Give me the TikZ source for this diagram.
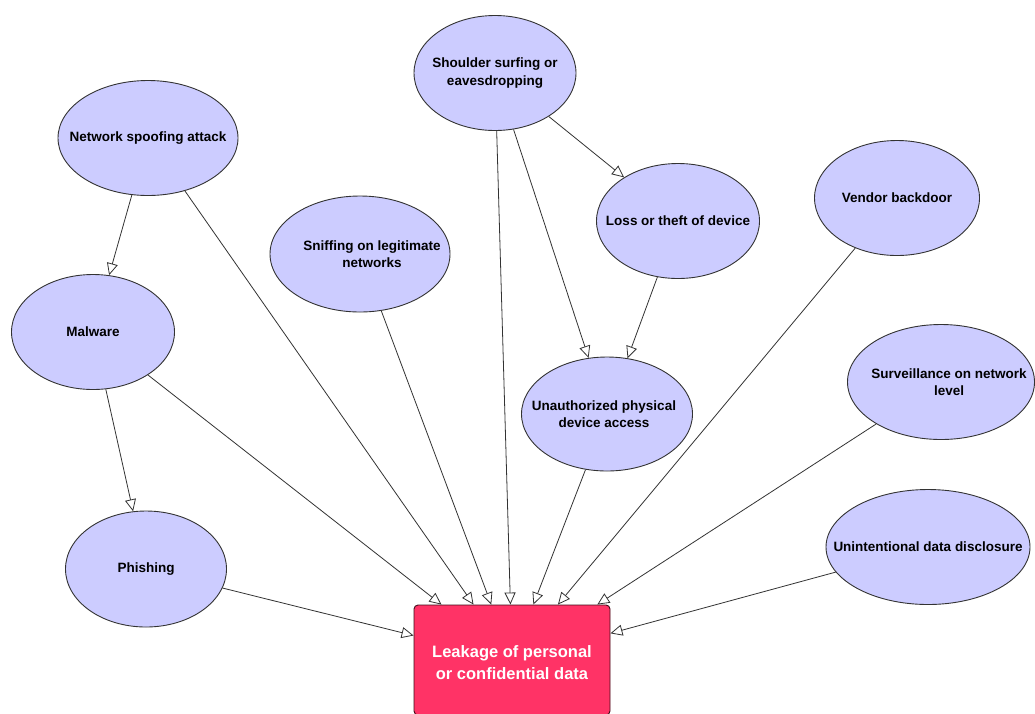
\documentclass[tikz,border=0pt]{standalone}
\usepackage{fontspec}
\setmainfont{Liberation Sans}
\usetikzlibrary{arrows.meta,shapes.geometric}
\definecolor{bubble}{HTML}{CCCCFF}
\definecolor{leakred}{HTML}{FF3366}
\definecolor{edgegray}{HTML}{333333}
\begin{document}
\begin{tikzpicture}[x=1pt,y=-1pt,
  lbl/.style={align=center, inner sep=0pt, text=black,
    font=\fontsize{13.5}{17.5}\selectfont\bfseries},
  threat/.style={ellipse, draw=edgegray, fill=bubble, line width=0.9pt,
    inner sep=0pt},
  sinktext/.style={align=center, inner sep=0pt, text=white,
    font=\fontsize{16.5}{22}\selectfont\bfseries},
  sink/.style={rectangle, rounded corners=4pt, draw=black!75!leakred, fill=leakred,
    line width=0.9pt, minimum width=196pt, minimum height=110pt},
  link/.style={draw=edgegray, line width=0.8pt,
    -{Triangle[open, length=12pt, width=11pt, line width=0.8pt]}}]
\useasboundingbox (0,0) rectangle (1035,713);
\clip (0,0) rectangle (1035,713);
\fill[white] (0,0) rectangle (1035,713);

% threat sources
\node[threat, minimum width=180pt, minimum height=115pt,
  label={[lbl]center:Network spoofing attack}] (spoof) at (148,138) {};
\node[threat, minimum width=162pt, minimum height=115pt,
  label={[lbl]center:Shoulder surfing or\\eavesdropping}] (shoulder) at (495,73) {};
\node[threat, minimum width=163pt, minimum height=115pt,
  label={[lbl]center:Malware}] (malware) at (93,332) {};
\node[threat, minimum width=180pt, minimum height=116pt,
  label={[lbl, xshift=12pt]center:Sniffing on legitimate\\networks}] (sniff) at (360,254) {};
\node[threat, minimum width=163pt, minimum height=115pt,
  label={[lbl]center:Loss or theft of device}] (loss) at (678,221) {};
\node[threat, minimum width=165pt, minimum height=115pt,
  label={[lbl]center:Vendor backdoor}] (vendor) at (897,198) {};
\node[threat, minimum width=171pt, minimum height=114pt,
  label={[lbl, xshift=-3pt]center:Unauthorized physical\\device access}] (physical) at (607,414) {};
\node[threat, minimum width=187pt, minimum height=115pt,
  label={[lbl, xshift=8pt]center:Surveillance on network\\level}] (surveil) at (941,382) {};
\node[threat, minimum width=161pt, minimum height=116pt,
  label={[lbl]center:Phishing}] (phish) at (146,569) {};
\node[threat, minimum width=204pt, minimum height=115pt,
  label={[lbl]center:Unintentional data disclosure}] (disclose) at (928,547) {};

% consequence
\node[sink, label={[sinktext, yshift=-3pt]center:Leakage of personal\\or confidential data}] (leak) at (512,660) {};

% causal links
\draw[link] (spoof) -- (malware);
\draw[link] (malware) -- (phish);
\draw[link] (shoulder) -- (loss);
\draw[link] (shoulder) -- (physical);
\draw[link] (loss) -- (physical);
\foreach \src in {spoof, malware, sniff, shoulder, physical, vendor, surveil, phish, disclose}
  \draw[link] (\src) -- (leak);
\end{tikzpicture}
\end{document}
